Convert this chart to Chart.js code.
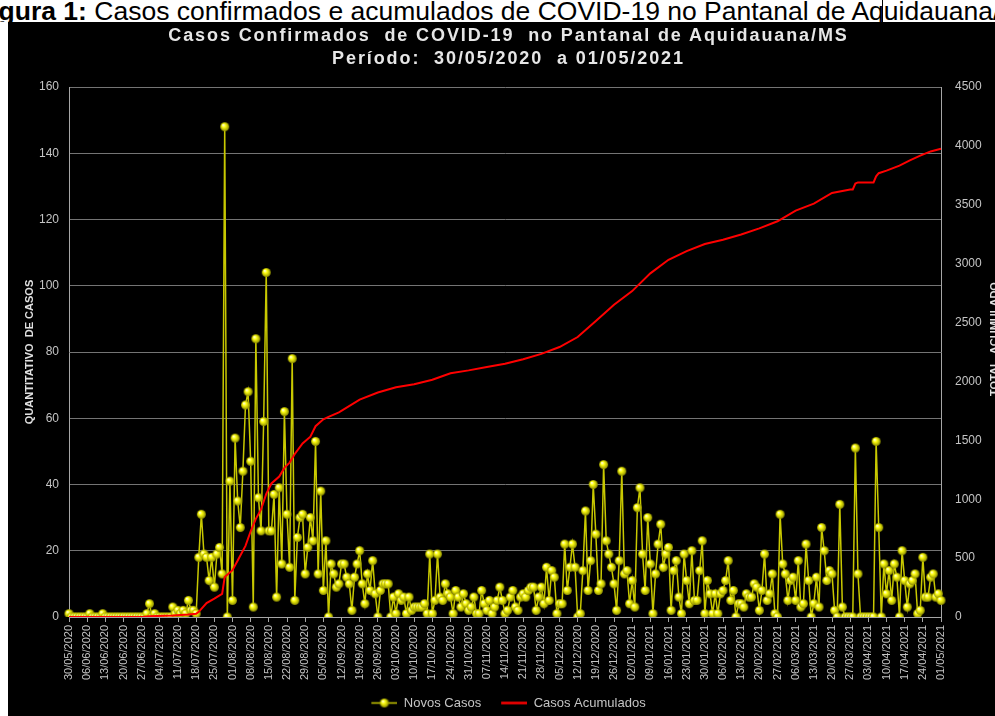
<!DOCTYPE html>
<html>
<head>
<meta charset="utf-8">
<script src="https://cdn.jsdelivr.net/npm/chart.js@4.4.1/dist/chart.umd.min.js"></script>
<style>
  html, body { margin: 0; padding: 0; background: #fff; width: 995px; height: 716px; overflow: hidden; }
  #caption { position: absolute; left: 0; top: 0; width: 995px; height: 22px; overflow: hidden; background: #fff; }
  #caption span { position: absolute; left: -25px; top: -2px; font: 26.5px "Liberation Sans", Arial, sans-serif; line-height: 26.5px; white-space: nowrap; color: #000; }
  #capline { position: absolute; left: 882px; top: 0; width: 1px; height: 22px; background: #000; }
  #panel { position: absolute; left: 8px; top: 22px; width: 987px; height: 694px; background: #000; }
  #title { position: absolute; left: 7px; top: 2px; width: 987px; text-align: center; color: #e6e6e6;
           font: bold 18px "Liberation Sans", Arial, sans-serif; letter-spacing: 1.9px; line-height: 23px; white-space: pre; }
  #wrap { position: absolute; left: 0; top: 0; width: 987px; height: 694px; }
</style>
</head>
<body>
<div id="caption"><span><b>Figura 1:</b> Casos confirmados e acumulados de COVID-19 no Pantanal de Aquidauana/MS</span></div>
<div id="capline"></div>
<div id="panel">
  <div id="wrap"><canvas id="chart"></canvas></div>
  <div id="title">Casos Confirmados  de COVID-19  no Pantanal de Aquidauana/MS
Período:  30/05/2020  a 01/05/2021</div>
</div>
<script>
// novos casos por dia, 30/05/2020 .. 01/05/2021
const novosCasos = [
  1, 0, 0, 0, 0, 0, 0, 0, 1, 0,
  0, 0, 0, 1, 0, 0, 0, 0, 0, 0,
  0, 0, 0, 0, 0, 0, 0, 0, 0, 0,
  1, 4, 0, 1, 0, 0, 0, 0, 0, 0,
  3, 1, 2, 1, 2, 1, 5, 2, 2, 1,
  18, 31, 19, 18, 11, 18, 9, 19, 21, 13,
  148, 0, 41, 5, 54, 35, 27, 44, 64, 68,
  47, 3, 84, 36, 26, 59, 104, 26, 26, 37,
  6, 39, 16, 62, 31, 15, 78, 5, 24, 30,
  31, 13, 21, 30, 23, 53, 13, 38, 8, 23,
  0, 16, 13, 9, 10, 16, 16, 12, 10, 2,
  12, 16, 20, 10, 4, 13, 8, 17, 7, 0,
  8, 10, 10, 10, 0, 6, 1, 7, 5, 6,
  1, 6, 2, 3, 3, 3, 3, 4, 1, 19,
  1, 5, 19, 6, 5, 10, 7, 6, 1, 8,
  6, 3, 7, 4, 2, 3, 6, 1, 1, 8,
  4, 2, 5, 1, 3, 5, 9, 5, 1, 2,
  6, 8, 3, 2, 6, 7, 6, 8, 9, 9,
  2, 6, 9, 4, 15, 5, 14, 12, 1, 4,
  4, 22, 8, 15, 22, 15, 0, 1, 14, 32,
  8, 17, 40, 25, 8, 10, 46, 23, 19, 15,
  10, 2, 17, 44, 13, 14, 4, 11, 3, 33,
  39, 19, 8, 30, 16, 1, 13, 22, 28, 15,
  19, 21, 2, 14, 17, 6, 1, 19, 11, 4,
  20, 5, 5, 14, 23, 1, 11, 7, 1, 7,
  1, 7, 8, 11, 17, 5, 8, 0, 4, 4,
  3, 7, 6, 6, 10, 9, 2, 8, 19, 5,
  7, 13, 1, 0, 31, 16, 13, 5, 11, 12,
  5, 17, 3, 4, 22, 11, 0, 4, 12, 3,
  27, 20, 11, 14, 13, 2, 0, 34, 3, 0,
  0, 0, 0, 51, 13, 0, 0, 0, 0, 0,
  0, 53, 27, 0, 16, 7, 14, 5, 16, 12,
  0, 20, 11, 3, 10, 11, 13, 1, 2, 18,
  6, 6, 12, 13, 6, 7, 5
];

const acumDia = [
  0, 29, 31, 40, 46, 49, 50, 53, 56, 59,
  60, 63, 65, 68, 70, 72, 74, 76, 78, 81,
  83, 85, 87, 90, 93, 95, 98, 100, 104, 112,
  119, 126, 133, 140, 147, 154, 161, 168, 175, 182,
  189, 196, 203, 210, 217, 224, 231, 238, 245, 252,
  259, 266, 273, 280, 287, 294, 301, 302, 303, 304,
  310, 311, 312, 315, 320, 324, 328, 332, 336
];
const acumValor = [
  1, 3, 7, 12, 21, 27, 44, 118, 156, 197,
  339, 398, 480, 604, 728, 833, 913, 1045, 1134, 1193,
  1266, 1311, 1384, 1473, 1531, 1620, 1679, 1699, 1737, 1846,
  1906, 1950, 1977, 2015, 2070, 2094, 2123, 2151, 2189, 2234,
  2292, 2377, 2514, 2651, 2767, 2918, 3033, 3106, 3167, 3203,
  3248, 3300, 3360, 3450, 3510, 3600, 3630, 3630, 3680, 3690,
  3690, 3742, 3768, 3790, 3832, 3877, 3917, 3953, 3976
];

const eixoEsqTicks = [0, 20, 40, 60, 80, 100, 120, 140, 160];
const eixoDirTicks = [0, 500, 1000, 1500, 2000, 2500, 3000, 3500, 4000, 4500];

// rotulos diarios dd/mm/aaaa a partir de 30/05/2020
const dias = [];
for (let i = 0; i < novosCasos.length; i++) {
  const d = new Date(Date.UTC(2020, 4, 30 + i));
  const dd = String(d.getUTCDate()).padStart(2, "0");
  const mm = String(d.getUTCMonth() + 1).padStart(2, "0");
  dias.push(dd + "/" + mm + "/" + d.getUTCFullYear());
}

const GRID = "#747474";
const AXIS = "#a6a6a6";
const TXT = "#c4c4c4";

function bola(r) {
  const c = document.createElement("canvas");
  const s = Math.ceil(r * 2 + 2);
  c.width = s; c.height = s;
  const g = c.getContext("2d");
  const cx = s / 2, cy = s / 2;
  const grad = g.createRadialGradient(cx - r * 0.35, cy - r * 0.4, r * 0.1, cx, cy, r);
  grad.addColorStop(0, "#ffffd8");
  grad.addColorStop(0.35, "#ffff10");
  grad.addColorStop(1, "#8c8c00");
  g.fillStyle = grad;
  g.beginPath(); g.arc(cx, cy, r, 0, Math.PI * 2); g.fill();
  return c;
}

// legend swatch: 40px box, visible line on the right 26px
function legendaLinha(cor, largura, comBola) {
  const c = document.createElement("canvas");
  c.width = 40; c.height = 11;
  const g = c.getContext("2d");
  g.strokeStyle = cor; g.lineWidth = largura;
  g.beginPath(); g.moveTo(14, 5.5); g.lineTo(40, 5.5); g.stroke();
  if (comBola) g.drawImage(bola(4.5), 27 - 5.5, 0);
  return c;
}

const bolaPonto = bola(4.5);
const legNovos = legendaLinha("#c8c800", 1.5, true);
const legAcum = legendaLinha("#ff0000", 2.5, false);

// right axis title reads bottom-to-top and is cut by the page edge
const tituloDireito = {
  id: "tituloDireito",
  afterDraw(chart) {
    const ctx = chart.ctx;
    ctx.save();
    ctx.translate(986.5, 317);
    ctx.rotate(-Math.PI / 2);
    ctx.font = 'bold 11px "Liberation Sans", Arial, sans-serif';
    ctx.fillStyle = "#e0e0e0";
    ctx.textAlign = "center";
    ctx.textBaseline = "middle";
    ctx.fillText("TOTAL  ACUMULADO", 0, 0);
    ctx.restore();
  }
};

Chart.defaults.font.family = '"Liberation Sans", Arial, sans-serif';
Chart.defaults.color = TXT;

new Chart(document.getElementById("chart"), {
  type: "line",
  data: {
    labels: dias,
    datasets: [
      {
        label: "Novos Casos",
        data: novosCasos,
        yAxisID: "y",
        borderColor: "#c8c800",
        backgroundColor: "#ffff00",
        borderWidth: 1.5,
        pointStyle: bolaPonto,
        pointRadius: 4.5,
        tension: 0,
        order: 1,
      },
      {
        label: "Casos Acumulados",
        data: acumDia.map((d, i) => ({ x: dias[d], y: acumValor[i] })),
        yAxisID: "y2",
        borderColor: "#ff0000",
        backgroundColor: "#ff0000",
        borderWidth: 2,
        pointRadius: 0,
        tension: 0,
        order: 0,
      },
    ],
  },
  options: {
    responsive: true,
    maintainAspectRatio: false,
    animation: false,
    devicePixelRatio: 1,
    layout: { padding: { top: 65, left: 0, right: 0, bottom: -3.5 } },
    plugins: {
      title: { display: false },
      tooltip: { enabled: false },
      legend: {
        display: true,
        position: "bottom",
        labels: {
          color: TXT,
          font: { size: 13 },
          usePointStyle: true,
          pointStyleWidth: 40,
          padding: 6,
          sort: (a, b) => a.datasetIndex - b.datasetIndex,
          generateLabels(chart) {
            const items = Chart.defaults.plugins.legend.labels.generateLabels(chart);
            items.forEach((it) => { it.pointStyle = it.datasetIndex === 0 ? legNovos : legAcum; });
            return items;
          },
        },
      },
    },
    scales: {
      x: {
        type: "category",
        offset: false,
        grid: {
          drawOnChartArea: false,
          drawTicks: true,
          tickLength: 5,
          color: (c) => (c.index % 7 === 0 ? AXIS : "rgba(0,0,0,0)"),
          tickColor: (c) => (c.index % 7 === 0 ? AXIS : "rgba(0,0,0,0)"),
        },
        border: { color: AXIS, width: 1 },
        ticks: {
          autoSkip: false,
          minRotation: 90,
          maxRotation: 90,
          padding: 3,
          color: TXT,
          font: { size: 11 },
          callback: (v, i) => (i % 7 === 0 ? dias[i] : ""),
        },
        afterFit(s) { s.height = 697.5 - 595 - s.chart.legend.height; },
      },
      y: {
        position: "left",
        min: 0,
        max: 160,
        afterBuildTicks(s) { s.ticks = eixoEsqTicks.map((v) => ({ value: v })); },
        grid: { color: GRID, drawTicks: false, lineWidth: 1 },
        border: { color: AXIS, width: 1 },
        ticks: { color: TXT, font: { size: 12 }, padding: 10, callback: (v) => String(v) },
        title: {
          display: true,
          text: "QUANTITATIVO  DE CASOS",
          color: "#e0e0e0",
          font: { size: 11, weight: "bold" },
          padding: { top: 15, bottom: 0 },
        },
        afterFit(s) { s.width = 61; },
      },
      y2: {
        position: "right",
        min: 0,
        max: 4500,
        afterBuildTicks(s) { s.ticks = eixoDirTicks.map((v) => ({ value: v })); },
        grid: { drawOnChartArea: false, drawTicks: false },
        border: { color: AXIS, width: 1 },
        ticks: { color: TXT, font: { size: 12 }, padding: 14, callback: (v) => String(v) },
        afterFit(s) { s.width = 54; },
      },
    },
  },
  plugins: [tituloDireito],
});
</script>
</body>
</html>
